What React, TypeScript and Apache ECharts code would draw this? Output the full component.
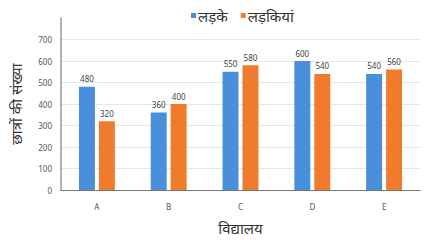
import React, { useEffect, useRef } from "react";
import * as echarts from "echarts";

const categories = ["A", "B", "C", "D", "E"];
const boys = [480, 360, 550, 600, 540];
const girls = [320, 400, 580, 540, 560];
const seriesNames = ["लड़के", "लड़कियां"];

export default function App() {
  const ref = useRef<HTMLDivElement>(null);
  useEffect(() => {
    const chart = echarts.init(ref.current!, null, { renderer: "svg" });
    const labelStyle = { show: true, position: "top", fontSize: 8, color: "#444", distance: 4 };
    chart.setOption({
      animation: false,
      textStyle: { fontFamily: "Noto Sans, sans-serif" },
      legend: {
        top: 3,
        left: 186,
        itemWidth: 5,
        itemHeight: 5,
        itemGap: 13,
        icon: "rect",
        textStyle: { fontSize: 15, color: "#333", padding: [0, 0, 0, -3] },
        data: seriesNames,
      },
      grid: { left: 60, right: 11, top: 18, bottom: 48 },
      xAxis: {
        type: "category",
        data: categories,
        name: "विद्यालय",
        nameLocation: "middle",
        nameGap: 30,
        nameTextStyle: { fontSize: 15, color: "#333" },
        axisLine: { lineStyle: { color: "#777", width: 1 } },
        axisTick: { show: false },
        axisLabel: { fontSize: 8, color: "#555", margin: 12 },
      },
      yAxis: {
        type: "value",
        min: 0,
        max: 800,
        interval: 100,
        name: "छात्रों की संख्या",
        nameLocation: "middle",
        nameGap: 38,
        nameRotate: 90,
        nameTextStyle: { fontSize: 15, color: "#333" },
        axisLine: { show: true, lineStyle: { color: "#999", width: 1.5 } },
        axisTick: { show: false },
        axisLabel: { fontSize: 8, color: "#555", showMaxLabel: false, margin: 9 },
        splitLine: { lineStyle: { color: "#e6e6e6" }, showMaxLine: false },
      },
      series: [
        {
          name: seriesNames[0],
          type: "bar",
          data: boys,
          barGap: "25%",
          barCategoryGap: "50%",
          itemStyle: { color: "#4a8fdb" },
          label: labelStyle,
        },
        {
          name: seriesNames[1],
          type: "bar",
          data: girls,
          itemStyle: { color: "#f07b2c" },
          label: labelStyle,
        },
      ],
    });
    return () => chart.dispose();
  }, []);
  return <div ref={ref} style={{ width: 431, height: 240, position: "absolute", left: 0, top: 0 }} />;
}
